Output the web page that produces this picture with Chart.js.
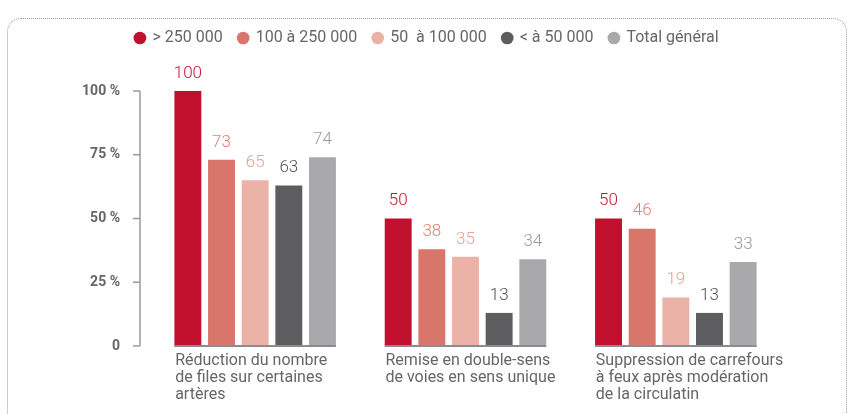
<!DOCTYPE html>
<html>
<head>
<meta charset="utf-8">
<script src="https://cdn.jsdelivr.net/npm/chart.js@4.4.1/dist/chart.umd.min.js"></script>
<style>
  html, body { margin: 0; padding: 0; background: #fff; }
  body { width: 854px; height: 414px; position: relative; overflow: hidden; }
  #cadre { position: absolute; left: 7px; top: 18px; width: 838px; height: 420px;
           border: 1px dotted #9a9a9a; border-radius: 14px; }
  #wrap { position: absolute; left: 0; top: 0; width: 854px; height: 414px; }
</style>
</head>
<body>
<div id="cadre"></div>
<div id="wrap"><canvas id="graf"></canvas></div>
<script>
// ---- datos ----
const categorias = [
  ['Réduction du nombre', 'de files sur certaines', 'artères'],
  ['Remise en double-sens', 'de voies en sens unique'],
  ['Suppression de carrefours', 'à feux après modération', 'de la circulatin']
]
const series = ['> 250 000', '100 à 250 000', '50  à 100 000', '< à 50 000', 'Total général']
const plus250 = [100, 50, 50]
const de100a250 = [73, 38, 46]
const de50a100 = [65, 35, 19]
const moins50 = [63, 13, 13]
const totalGeneral = [74, 34, 33]
const yTicks = [0, 25, 50, 75, 100]
const yTickLabels = ['0', '25 %', '50 %', '75 %', '100 %']

const coloresBarra = ['#c1102e', '#d9766b', '#ebb3a8', '#5d5d5f', '#a9a9ac']
const coloresValor = ['#c8102e', '#e07f72', '#e6a196', '#555557', '#9a9a9c']

const fuente = 'Roboto'

// etiquetas encima de cada barra
const valoresPlugin = {
  id: 'valores',
  afterDatasetsDraw(chart) {
    const ctx = chart.ctx
    ctx.save()
    ctx.font = '300 17px ' + fuente
    ctx.textAlign = 'center'
    ctx.textBaseline = 'bottom'
    chart.data.datasets.forEach((ds, i) => {
      const meta = chart.getDatasetMeta(i)
      meta.data.forEach((bar, j) => {
        ctx.fillStyle = coloresValor[i]
        ctx.fillText(ds.data[j], bar.x, bar.y - 9)
      })
    })
    ctx.restore()
  }
}

// eje Y dibujado un poco separado + linea base por grupo
const ejesPlugin = {
  id: 'ejes',
  afterDatasetsDraw(chart) {
    const ctx = chart.ctx
    const y = chart.scales.y
    const x0 = chart.chartArea.left - 10
    ctx.save()
    ctx.strokeStyle = '#9a9a9a'
    ctx.lineWidth = 1.5
    ctx.beginPath()
    ctx.moveTo(x0, y.getPixelForValue(100))
    ctx.lineTo(x0, y.getPixelForValue(0))
    yTicks.forEach(v => {
      ctx.moveTo(x0 - 7, y.getPixelForValue(v))
      ctx.lineTo(x0, y.getPixelForValue(v))
    })
    ctx.stroke()

    // linea base
    const first = chart.getDatasetMeta(0).data
    const last = chart.getDatasetMeta(chart.data.datasets.length - 1).data
    ctx.strokeStyle = '#8c8c8e'
    ctx.lineWidth = 2
    ctx.beginPath()
    first.forEach((b, j) => {
      const l = last[j]
      ctx.moveTo(b.x - b.width / 2, y.getPixelForValue(0))
      ctx.lineTo(l.x + l.width / 2, y.getPixelForValue(0))
    })
    ctx.stroke()
    ctx.restore()
  }
}

// leyenda: mas espacio debajo y centrada en todo el ancho
const espacioLeyenda = {
  id: 'espacioLeyenda',
  beforeInit(chart) {
    const fit = chart.legend.fit
    chart.legend.fit = function () {
      fit.bind(chart.legend)()
      this.height += 35
    }
  },
  afterLayout(chart) {
    chart.legend.left = 0
    chart.legend.right = chart.width
  }
}

const datos = [plus250, de100a250, de50a100, moins50, totalGeneral]

new Chart(document.getElementById('graf'), {
  type: 'bar',
  data: {
    labels: categorias,
    datasets: series.map((s, i) => ({
      label: s,
      data: datos[i],
      backgroundColor: coloresBarra[i],
      borderWidth: 0,
      barPercentage: 0.8,
      categoryPercentage: 0.8
    }))
  },
  options: {
    responsive: true,
    maintainAspectRatio: false,
    animation: false,
    layout: { padding: { top: 14, right: 73, bottom: 4, left: 0 } },
    plugins: {
      tooltip: { enabled: false },
      legend: {
        position: 'top',
        labels: {
          usePointStyle: true,
          pointStyle: 'circle',
          boxHeight: 9,
          boxWidth: 9,
          padding: 16,
          color: '#666',
          font: { family: fuente, size: 16 }
        }
      }
    },
    scales: {
      x: {
        grid: { display: false, drawTicks: false },
        border: { display: false },
        afterFit(scale) { scale.paddingLeft = 0; scale.paddingRight = 0 },
        ticks: {
          align: 'start',
          labelOffset: -80,
          padding: 7,
          color: '#666',
          font: { family: fuente, size: 16, lineHeight: 1.04 }
        }
      },
      y: {
        min: 0,
        max: 100,
        afterFit(scale) { scale.width = 150 },
        afterBuildTicks(scale) { scale.ticks = yTicks.map(v => ({ value: v })) },
        grid: { display: false, drawTicks: false },
        border: { display: false },
        ticks: {
          padding: 30,
          color: '#666',
          font: { family: fuente, size: 14, weight: 'bold' },
          callback: (v, i) => yTickLabels[i]
        }
      }
    }
  },
  plugins: [valoresPlugin, ejesPlugin, espacioLeyenda]
})
</script>
</body>
</html>
